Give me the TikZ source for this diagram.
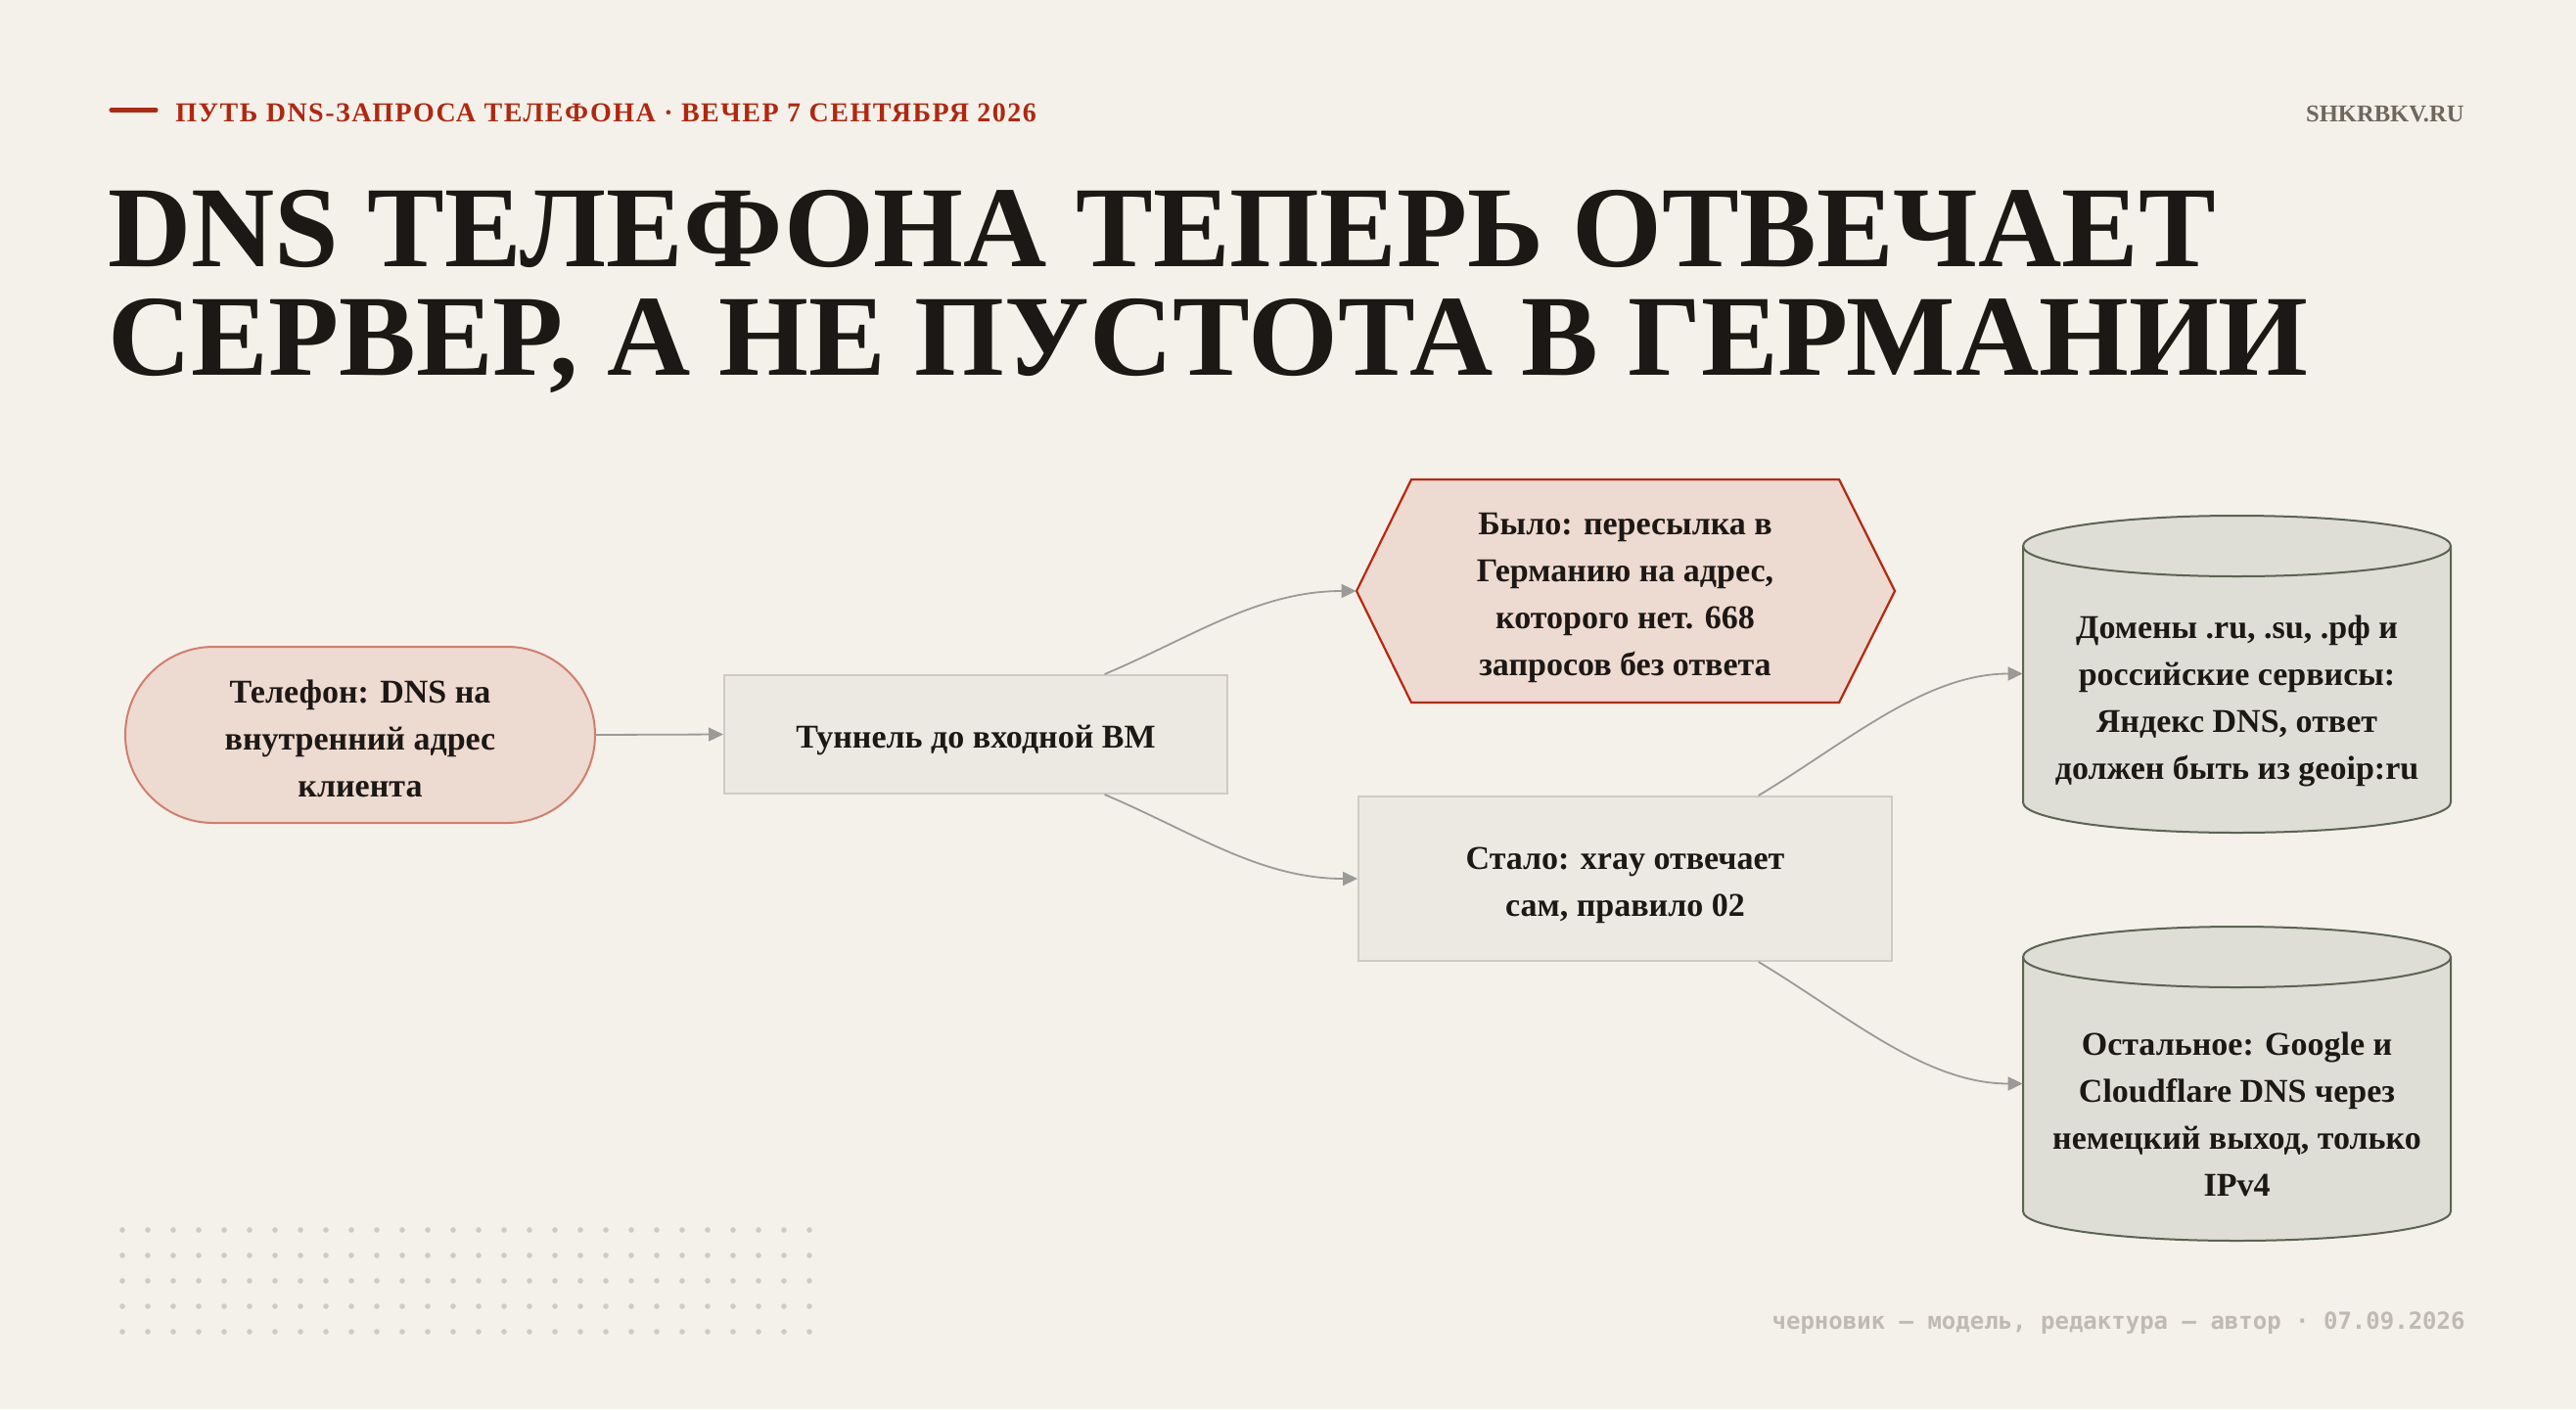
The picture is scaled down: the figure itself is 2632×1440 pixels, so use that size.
\documentclass[tikz,border=0pt]{standalone}
\usepackage{fontspec}
\setmainfont{Liberation Serif}
\newfontfamily\monof{DejaVu Sans Mono}
\newfontfamily\trackf[LetterSpace=5.3]{Liberation Serif}
\usetikzlibrary{arrows.meta,shapes.misc,calc}
\newcommand\topstrut[1][18pt]{\rule{0pt}{#1}}
\definecolor{bgc}{HTML}{F4F1EB}
\definecolor{pinkfill}{HTML}{EDDAD0}
\definecolor{pinkedge}{HTML}{D27E6C}
\definecolor{hexedge}{HTML}{B8280F}
\definecolor{boxfill}{HTML}{ECE9E2}
\definecolor{boxedge}{HTML}{CFCBC4}
\definecolor{cylfill}{HTML}{DFDED6}
\definecolor{cyledge}{HTML}{5C6452}
\definecolor{connc}{HTML}{9A9A98}
\definecolor{inkc}{HTML}{1C1815}
\definecolor{headred}{HTML}{B0280F}
\definecolor{sitec}{HTML}{6E675C}
\definecolor{footc}{HTML}{BFBBB3}
\definecolor{dotc}{HTML}{CFCBC3}
\tikzset{
  ntext/.style={align=center, text=inkc, font=\bfseries\fontsize{17}{24}\selectfont, inner sep=0pt},
  stad/.style={ntext, rounded rectangle, draw=pinkedge, fill=pinkfill, line width=1pt},
  plainbox/.style={ntext, rectangle, draw=boxedge, fill=boxfill, line width=1pt},
  hexs/.style={draw=hexedge, fill=pinkfill, line width=1.1pt},
  cyls/.style={draw=cyledge, fill=cylfill, line width=1pt},
  conn/.style={draw=connc, line width=0.9pt, -{Triangle[length=7.5pt,width=7pt]}},
}
\begin{document}
\begin{tikzpicture}[x=0.5pt,y=-0.5pt]
\fill[bgc] (0,0) rectangle (2632,1440);
\useasboundingbox (0,0) rectangle (2632,1440);

% header
\draw[headred, line width=2.6pt, line cap=round] (114,112.5) -- (159,112.5);
\node[anchor=base west, inner sep=0pt, text=headred, font=\trackf\bfseries\fontsize{14}{16}\selectfont] (kicker) at (179,124) {ПУТЬ DNS-ЗАПРОСА ТЕЛЕФОНА · ВЕЧЕР 7 СЕНТЯБРЯ 2026};
\node[anchor=base east, inner sep=0pt, text=sitec, font=\bfseries\fontsize{12.3}{14}\selectfont] (site) at (2518,124) {SHKRBKV.RU};

% title
\node[anchor=base west, inner sep=0pt, text=inkc, font=\bfseries\fontsize{59}{60}\selectfont] (title1) at (110,272) {DNS ТЕЛЕФОНА ТЕПЕРЬ ОТВЕЧАЕТ};
\node[anchor=base west, inner sep=0pt, text=inkc, font=\bfseries\fontsize{59}{60}\selectfont] (title2) at (110,383) {СЕРВЕР, А НЕ ПУСТОТА В ГЕРМАНИИ};

% nodes
\node[stad, minimum width=240pt, minimum height=90pt] (phone) at (368,751) {\topstrut[15.5pt]Телефон: DNS на\\внутренний адрес\\клиента};
\node[plainbox, minimum width=257pt, minimum height=60.5pt] (tun) at (997,750.5) {\topstrut Туннель до входной ВМ};
\node[plainbox, minimum width=272.5pt, minimum height=84pt] (now) at (1660.5,898) {\topstrut Стало: xray отвечает\\сам, правило 02};

% hexagon
\draw[hexs] (1386,604) -- (1442,490) -- (1879,490) -- (1936,604) -- (1879,718) -- (1442,718) -- cycle;
\node[ntext, minimum width=218.5pt, minimum height=114pt] (was) at (1660.5,604) {\topstrut[18.5pt]Было: пересылка в\\Германию на адрес,\\которого нет. 668\\запросов без ответа};
\coordinate (wasL) at ([xshift=-28pt]was.west);

% cylinders
\draw[cyls] (2067,558) -- (2067,820) arc[start angle=180, end angle=360, x radius=109.25pt, y radius=15.5pt] -- (2504,558) arc[start angle=0, end angle=180, x radius=109.25pt, y radius=15.5pt] -- cycle;
\draw[cyls] (2067,558) arc[start angle=180, end angle=360, x radius=109.25pt, y radius=15.5pt];
\node[minimum width=218.5pt, minimum height=161.5pt, inner sep=0pt] (dbA) at (2285.5,688.5) {};
\node[ntext] (dbAtext) at (2285.5,716) {Домены .ru, .su, .рф и\\российские сервисы:\\Яндекс DNS, ответ\\должен быть из geoip:ru};

\draw[cyls] (2067,978) -- (2067,1238) arc[start angle=180, end angle=360, x radius=109.25pt, y radius=15pt] -- (2504,978) arc[start angle=0, end angle=180, x radius=109.25pt, y radius=15.5pt] -- cycle;
\draw[cyls] (2067,978) arc[start angle=180, end angle=360, x radius=109.25pt, y radius=15.5pt];
\node[minimum width=218.5pt, minimum height=160.5pt, inner sep=0pt] (dbB) at (2285.5,1107.5) {};
\node[ntext] (dbBtext) at (2285.5,1139) {Остальное: Google и\\Cloudflare DNS через\\немецкий выход, только\\IPv4};

% connectors
\draw[conn] (phone.east) -- (tun.west);
\draw[conn] ($(tun.north west)!0.755!(tun.north east)$) .. controls +(90,-38) and +(-100,0) .. (wasL);
\draw[conn] ($(tun.south west)!0.755!(tun.south east)$) .. controls +(90,38) and +(-100,0) .. (now.west);
\draw[conn] ($(now.north west)!0.749!(now.north east)$) .. controls +(90,-54) and +(-100,0) .. (dbA.west);
\draw[conn] ($(now.south west)!0.749!(now.south east)$) .. controls +(90,54) and +(-100,0) .. (dbB.west);

% dots
\foreach \i in {0,...,27} {
  \foreach \j in {0,...,4} {
    \fill[dotc] (125+26*\i,1257+26*\j) circle[radius=1.4pt];
  }
}

% footer
\node[anchor=base east, inner sep=0pt, text=footc, font=\monof\bfseries\fontsize{12}{14}\selectfont] (foot) at (2519,1358) {черновик — модель, редактура — автор · 07.09.2026};
\end{tikzpicture}
\end{document}
